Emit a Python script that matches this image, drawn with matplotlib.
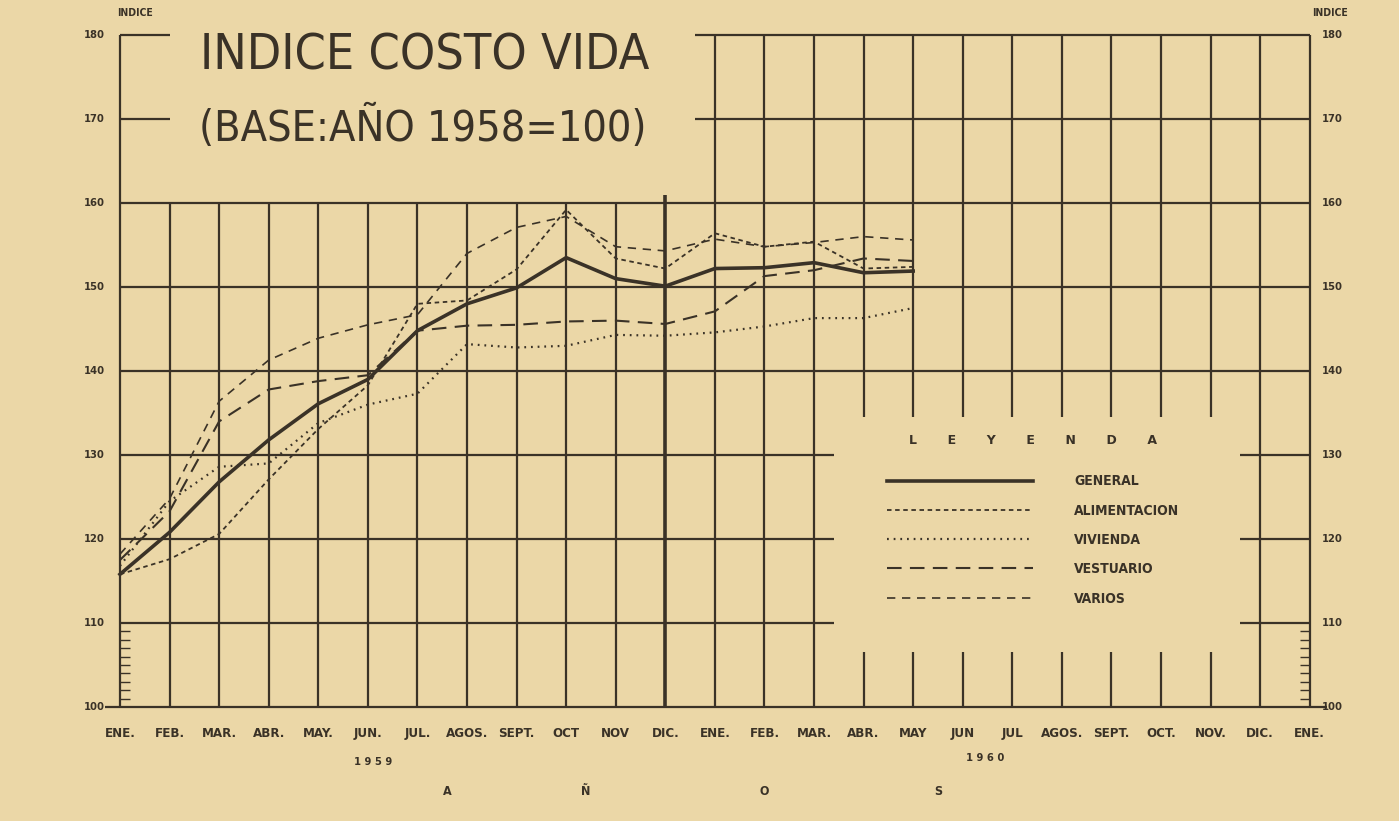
import matplotlib
matplotlib.use("Agg")
import matplotlib.pyplot as plt

# meses ENE 1959 .. ENE 1961 (indice 0..24)
meses_1959 = ["ENE.", "FEB.", "MAR.", "ABR.", "MAY.", "JUN.", "JUL.", "AGOS.", "SEPT.", "OCT", "NOV", "DIC.", "ENE."]
meses_1960 = ["FEB.", "MAR.", "ABR.", "MAY", "JUN", "JUL", "AGOS.", "SEPT.", "OCT.", "NOV.", "DIC.", "ENE."]
meses = meses_1959 + meses_1960

# datos ENE 1959 .. MAY 1960
general = [115.8, 120.8, 126.8, 131.8, 136.1, 139.0, 144.8, 148.0, 149.9, 153.5,
           151.0, 150.1, 152.2, 152.3, 152.9, 151.7, 151.9]
alimentacion = [115.8, 117.6, 120.6, 127.1, 133.1, 138.3, 148.0, 148.4, 152.1, 159.2,
                153.4, 152.2, 156.4, 154.8, 155.4, 152.2, 152.4]
vivienda = [116.8, 124.5, 128.6, 129.0, 133.8, 136.0, 137.3, 143.2, 142.8, 143.0,
            144.3, 144.2, 144.6, 145.3, 146.3, 146.3, 147.5]
vestuario = [117.5, 123.3, 134.0, 137.8, 138.8, 139.5, 144.8, 145.4, 145.5, 145.9,
             146.0, 145.6, 147.1, 151.3, 152.0, 153.4, 153.1]
varios = [118.2, 124.8, 136.4, 141.3, 143.9, 145.5, 146.7, 154.0, 157.1, 158.4,
          154.8, 154.3, 155.7, 154.8, 155.3, 156.0, 155.6]

papel = "#ebd7a7"
tinta = "#3a3227"

fig = plt.figure(figsize=(13.99, 8.21), dpi=100, facecolor=papel)
ax = fig.add_axes([0, 0, 1, 1])
ax.set_facecolor(papel)
ax.set_xlim(-2.42, 25.8)
ax.set_ylim(86.43, 184.17)
ax.axis("off")

fuente = dict(family="DejaVu Sans", fontstretch="condensed", fontweight="bold", color=tinta)

# cuadricula
lw = 1.6
ax.vlines(0, 100, 180, color=tinta, lw=lw)
ax.hlines([170, 180], 0, 1, color=tinta, lw=lw)
ax.hlines([140, 150, 160], 0, 24, color=tinta, lw=lw)
ax.hlines([170, 180], 11.6, 24, color=tinta, lw=lw)
ax.hlines([110, 120, 130], 0, 14.4, color=tinta, lw=lw)
ax.hlines([110, 120, 130], 22.6, 24, color=tinta, lw=lw)
ax.hlines(100, -0.3, 24.35, color=tinta, lw=lw)
ax.vlines(range(1, 11), 100, 160, color=tinta, lw=lw)
ax.vlines(11, 100, 161, color=tinta, lw=2.6)
ax.vlines([12, 13, 14, 23, 24], 100, 180, color=tinta, lw=lw)
ax.vlines(range(15, 23), 134.5, 180, color=tinta, lw=lw)
ax.vlines(range(15, 23), 100, 106.5, color=tinta, lw=lw)
ax.hlines(range(101, 110), 0, 0.2, color=tinta, lw=1)
ax.hlines(range(101, 110), 23.8, 24, color=tinta, lw=1)

# series
x = list(range(len(general)))
ax.plot(x, general, color=tinta, lw=2.6, solid_joinstyle="miter", label="GENERAL")
ax.plot(x, alimentacion, color=tinta, lw=1.3, dashes=(2.5, 2), label="ALIMENTACION")
ax.plot(x, vivienda, color=tinta, lw=1.6, dashes=(0.8, 2.2), label="VIVIENDA")
ax.plot(x, vestuario, color=tinta, lw=1.5, dashes=(7, 4), label="VESTUARIO")
ax.plot(x, varios, color=tinta, lw=1.2, dashes=(5, 4), label="VARIOS")

# ejes
for v in range(100, 190, 10):
    ax.text(-0.3, v, str(v), ha="right", va="center", fontsize=8, **fuente)
    ax.text(24.25, v, str(v), ha="left", va="center", fontsize=8, **fuente)
ax.text(0.3, 182.6, "INDICE", ha="center", va="center", fontsize=7.5, **fuente)
ax.text(24.4, 182.6, "INDICE", ha="center", va="center", fontsize=7.5, **fuente)

for i, m in enumerate(meses):
    ax.text(i, 96.8, m, ha="center", va="center", fontsize=9.5, **fuente)
ax.text(5.1, 93.4, "1 9 5 9", ha="center", va="center", fontsize=8, **fuente)
ax.text(17.45, 93.9, "1 9 6 0", ha="center", va="center", fontsize=8, **fuente)
for xi, letra in zip([6.6, 9.4, 13.0, 16.5], ["A", "Ñ", "O", "S"]):
    ax.text(xi, 89.9, letra, ha="center", va="center", fontsize=9, **fuente)

# titulo
titulo = dict(family="DejaVu Sans", fontstretch="condensed", fontweight="light", color=tinta)
ax.text(6.15, 177.6, "INDICE COSTO VIDA", ha="center", va="center", fontsize=36, **titulo)
ax.text(6.1, 169.0, "(BASE:AÑO 1958=100)", ha="center", va="center", fontsize=31, **titulo)

# leyenda
leg = ax.legend(loc="upper left", bbox_to_anchor=(0.625, 0.487), frameon=False,
                title="L       E       Y       E       N       D       A",
                handlelength=10.5, handletextpad=3, labelspacing=1.1,
                prop=dict(family="DejaVu Sans", stretch="condensed", weight="bold", size=10))
leg.get_title().set_fontsize(9)
leg.get_title().set_fontweight("bold")
leg.get_title().set_color(tinta)
leg._legend_box.sep = 20
for t in leg.get_texts():
    t.set_color(tinta)

fig.savefig("out.png", dpi=100, facecolor=papel)
